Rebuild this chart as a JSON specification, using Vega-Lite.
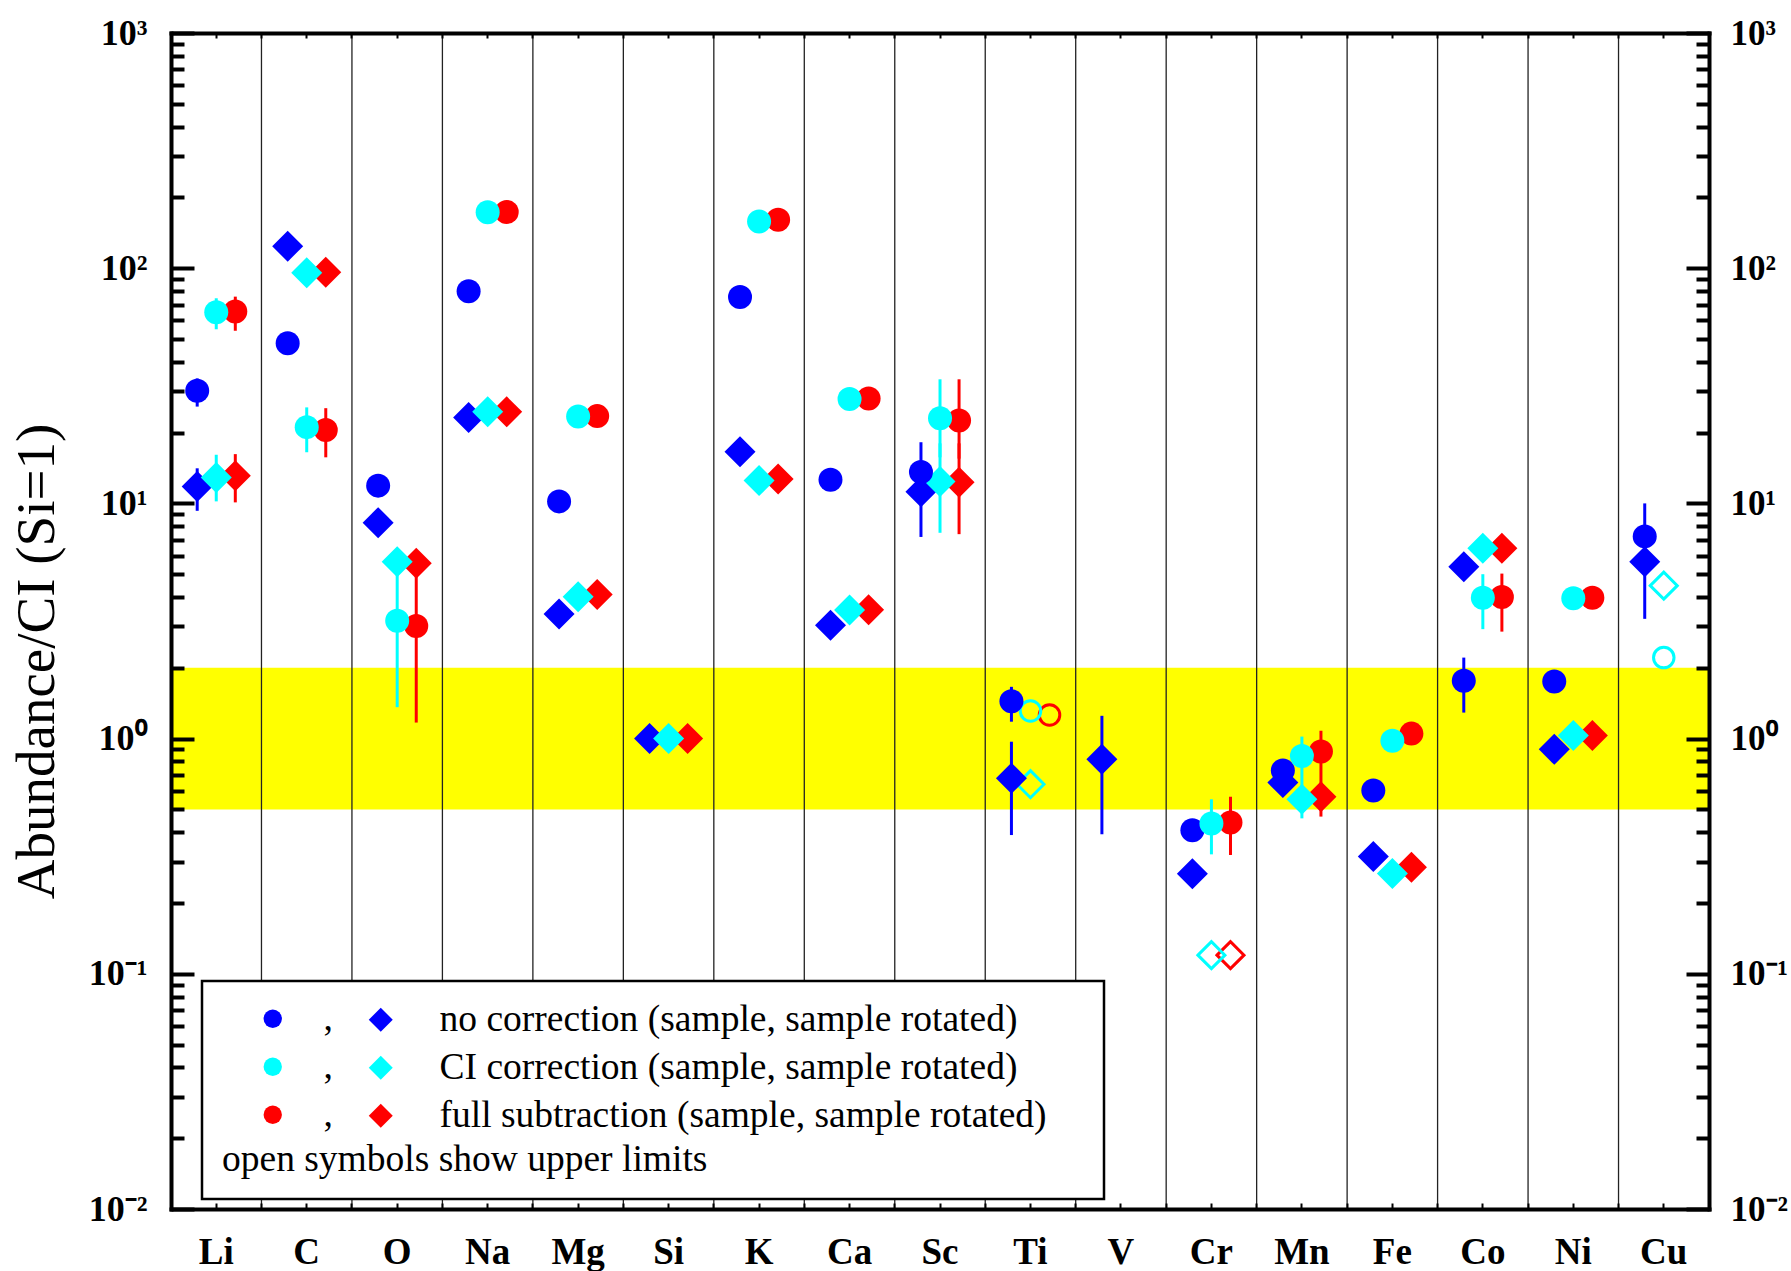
{
  "$schema": "https://vega.github.io/schema/vega-lite/v6.json",
  "width": 1538,
  "height": 1176,
  "autosize": {"type": "none"},
  "padding": {"left": 171, "top": 33, "right": 82, "bottom": 62},
  "background": "white",
  "config": {
    "view": {"stroke": null},
    "font": "Liberation Serif",
    "axis": {"labelColor": "black", "tickColor": "black", "domainColor": "black", "grid": false}
  },
  "datasets": {
    "els": [
      {"el": "Li"}, {"el": "C"}, {"el": "O"}, {"el": "Na"}, {"el": "Mg"}, {"el": "Si"}, {"el": "K"}, {"el": "Ca"}, {"el": "Sc"},
      {"el": "Ti"}, {"el": "V"}, {"el": "Cr"}, {"el": "Mn"}, {"el": "Fe"}, {"el": "Co"}, {"el": "Ni"}, {"el": "Cu"}
    ],
    "band": [{"lo": 0.5, "hi": 2}],
    "pts": [
      {"el": "Li", "m": "full", "s": "c", "v": 65.5, "lo": 54.2, "hi": 75.7},
      {"el": "Li", "m": "full", "s": "d", "v": 13.1, "lo": 10.1, "hi": 16.2},
      {"el": "Li", "m": "no", "s": "c", "v": 30.1, "lo": 25.8, "hi": 34},
      {"el": "Li", "m": "no", "s": "d", "v": 11.8, "lo": 9.3, "hi": 14.1},
      {"el": "Li", "m": "CI", "s": "c", "v": 65, "lo": 55, "hi": 74.5},
      {"el": "Li", "m": "CI", "s": "d", "v": 12.9, "lo": 10.2, "hi": 16.1},
      {"el": "C", "m": "full", "s": "c", "v": 20.5, "lo": 15.7, "hi": 25.4},
      {"el": "C", "m": "full", "s": "d", "v": 96},
      {"el": "C", "m": "no", "s": "c", "v": 48},
      {"el": "C", "m": "no", "s": "d", "v": 124},
      {"el": "C", "m": "CI", "s": "c", "v": 21.1, "lo": 16.5, "hi": 25.6},
      {"el": "C", "m": "CI", "s": "d", "v": 95.7},
      {"el": "O", "m": "full", "s": "c", "v": 3.01, "lo": 1.17, "hi": 5.5},
      {"el": "O", "m": "full", "s": "d", "v": 5.56},
      {"el": "O", "m": "no", "s": "c", "v": 11.9},
      {"el": "O", "m": "no", "s": "d", "v": 8.28},
      {"el": "O", "m": "CI", "s": "c", "v": 3.17, "lo": 1.36, "hi": 5.6},
      {"el": "O", "m": "CI", "s": "d", "v": 5.65},
      {"el": "Na", "m": "full", "s": "c", "v": 173.5},
      {"el": "Na", "m": "full", "s": "d", "v": 24.5},
      {"el": "Na", "m": "no", "s": "c", "v": 79.8},
      {"el": "Na", "m": "no", "s": "d", "v": 23.2},
      {"el": "Na", "m": "CI", "s": "c", "v": 173},
      {"el": "Na", "m": "CI", "s": "d", "v": 24.5},
      {"el": "Mg", "m": "full", "s": "c", "v": 23.5},
      {"el": "Mg", "m": "full", "s": "d", "v": 4.1},
      {"el": "Mg", "m": "no", "s": "c", "v": 10.2},
      {"el": "Mg", "m": "no", "s": "d", "v": 3.39},
      {"el": "Mg", "m": "CI", "s": "c", "v": 23.4},
      {"el": "Mg", "m": "CI", "s": "d", "v": 4.01},
      {"el": "Si", "m": "full", "s": "d", "v": 1.0},
      {"el": "Si", "m": "no", "s": "d", "v": 1.0},
      {"el": "Si", "m": "CI", "s": "d", "v": 1.0},
      {"el": "K", "m": "full", "s": "c", "v": 160.7},
      {"el": "K", "m": "full", "s": "d", "v": 12.7},
      {"el": "K", "m": "no", "s": "c", "v": 75.4},
      {"el": "K", "m": "no", "s": "d", "v": 16.6},
      {"el": "K", "m": "CI", "s": "c", "v": 158},
      {"el": "K", "m": "CI", "s": "d", "v": 12.5},
      {"el": "Ca", "m": "full", "s": "c", "v": 27.9},
      {"el": "Ca", "m": "full", "s": "d", "v": 3.53},
      {"el": "Ca", "m": "no", "s": "c", "v": 12.6},
      {"el": "Ca", "m": "no", "s": "d", "v": 3.03},
      {"el": "Ca", "m": "CI", "s": "c", "v": 27.8},
      {"el": "Ca", "m": "CI", "s": "d", "v": 3.52},
      {"el": "Sc", "m": "full", "s": "c", "v": 22.5, "lo": 15.5, "hi": 33.7},
      {"el": "Sc", "m": "full", "s": "d", "v": 12.3, "lo": 7.4, "hi": 18},
      {"el": "Sc", "m": "no", "s": "c", "v": 13.6, "lo": 10.2, "hi": 18.2},
      {"el": "Sc", "m": "no", "s": "d", "v": 11.2, "lo": 7.2, "hi": 15},
      {"el": "Sc", "m": "CI", "s": "c", "v": 23, "lo": 15.7, "hi": 33.7},
      {"el": "Sc", "m": "CI", "s": "d", "v": 12.4, "lo": 7.5, "hi": 18},
      {"el": "Ti", "m": "full", "s": "c", "v": 1.26, "lim": true},
      {"el": "Ti", "m": "no", "s": "c", "v": 1.44, "lo": 1.18, "hi": 1.66},
      {"el": "Ti", "m": "no", "s": "d", "v": 0.678, "lo": 0.389, "hi": 0.97},
      {"el": "Ti", "m": "CI", "s": "c", "v": 1.31, "lim": true},
      {"el": "Ti", "m": "CI", "s": "d", "v": 0.64, "lim": true},
      {"el": "V", "m": "no", "s": "d", "v": 0.817, "lo": 0.392, "hi": 1.25},
      {"el": "Cr", "m": "full", "s": "c", "v": 0.44, "lo": 0.32, "hi": 0.566},
      {"el": "Cr", "m": "full", "s": "d", "v": 0.12, "lim": true},
      {"el": "Cr", "m": "no", "s": "c", "v": 0.408},
      {"el": "Cr", "m": "no", "s": "d", "v": 0.266},
      {"el": "Cr", "m": "CI", "s": "c", "v": 0.436, "lo": 0.322, "hi": 0.552},
      {"el": "Cr", "m": "CI", "s": "d", "v": 0.12, "lim": true},
      {"el": "Mn", "m": "full", "s": "c", "v": 0.881, "lo": 0.466, "hi": 1.08},
      {"el": "Mn", "m": "full", "s": "d", "v": 0.566},
      {"el": "Mn", "m": "no", "s": "c", "v": 0.731},
      {"el": "Mn", "m": "no", "s": "d", "v": 0.65},
      {"el": "Mn", "m": "CI", "s": "c", "v": 0.843, "lo": 0.458, "hi": 1.02},
      {"el": "Mn", "m": "CI", "s": "d", "v": 0.552},
      {"el": "Fe", "m": "full", "s": "c", "v": 1.05},
      {"el": "Fe", "m": "full", "s": "d", "v": 0.284},
      {"el": "Fe", "m": "no", "s": "c", "v": 0.601},
      {"el": "Fe", "m": "no", "s": "d", "v": 0.315},
      {"el": "Fe", "m": "CI", "s": "c", "v": 0.98},
      {"el": "Fe", "m": "CI", "s": "d", "v": 0.267},
      {"el": "Co", "m": "full", "s": "c", "v": 4.0, "lo": 2.85, "hi": 5.03},
      {"el": "Co", "m": "full", "s": "d", "v": 6.44},
      {"el": "Co", "m": "no", "s": "c", "v": 1.76, "lo": 1.29, "hi": 2.21},
      {"el": "Co", "m": "no", "s": "d", "v": 5.38},
      {"el": "Co", "m": "CI", "s": "c", "v": 3.97, "lo": 2.92, "hi": 5.0},
      {"el": "Co", "m": "CI", "s": "d", "v": 6.44},
      {"el": "Ni", "m": "full", "s": "c", "v": 3.97},
      {"el": "Ni", "m": "full", "s": "d", "v": 1.03},
      {"el": "Ni", "m": "no", "s": "c", "v": 1.75},
      {"el": "Ni", "m": "no", "s": "d", "v": 0.9},
      {"el": "Ni", "m": "CI", "s": "c", "v": 3.95},
      {"el": "Ni", "m": "CI", "s": "d", "v": 1.03},
      {"el": "Cu", "m": "no", "s": "c", "v": 7.24, "lo": 5.2, "hi": 10},
      {"el": "Cu", "m": "no", "s": "d", "v": 5.65, "lo": 3.23, "hi": 7.5},
      {"el": "Cu", "m": "CI", "s": "c", "v": 2.21, "lim": true},
      {"el": "Cu", "m": "CI", "s": "d", "v": 4.47, "lim": true}
    ]
  },
  "resolve": {
    "scale": {"fill": "independent"},
    "legend": {"fill": "independent"},
    "axis": {"x": "independent", "y": "independent"}
  },
  "layer": [
    {
      "data": {"name": "band"},
      "mark": {"type": "rect", "color": "#ffff00"},
      "encoding": {
        "y": {"field": "lo", "type": "quantitative",
          "scale": {"type": "log", "domain": [0.01, 1000], "nice": false},
          "axis": {"orient": "left", "values": [0.01, 0.1, 1, 10, 100, 1000], "ticks": false,
            "labelExpr": "datum.value == 1000 ? '10³' : datum.value == 100 ? '10²' : datum.value == 10 ? '10¹' : datum.value == 1 ? '10⁰' : datum.value == 0.1 ? '10⁻¹' : '10⁻²'",
            "labelFont": "Liberation Serif", "labelFontSize": 36, "labelFontWeight": "bold", "labelPadding": 24, "labelAlign": "right", "labelBaseline": "middle",
            "domain": true, "domainWidth": 4, "domainCap": "square", "zindex": 1,
            "title": "Abundance/CI (Si=1)", "titleFont": "Liberation Serif", "titleFontSize": 55, "titleFontWeight": "normal", "titleColor": "black",
            "titleAngle": -90, "titleX": -118, "titleY": 628, "titleBaseline": "alphabetic", "titleAlign": "center"}},
        "y2": {"field": "hi"}
      }
    },
    {
      "mark": {"type": "rule", "color": "black", "strokeWidth": 4},
      "encoding": {
        "y": {"datum": 1, "type": "quantitative",
          "scale": {"type": "log", "domain": [0.01, 1000], "nice": false},
          "axis": {"orient": "right", "values": [0.01, 0.1, 1, 10, 100, 1000], "ticks": false,
            "labelExpr": "datum.value == 1000 ? '10³' : datum.value == 100 ? '10²' : datum.value == 10 ? '10¹' : datum.value == 1 ? '10⁰' : datum.value == 0.1 ? '10⁻¹' : '10⁻²'",
            "labelFont": "Liberation Serif", "labelFontSize": 35, "labelFontWeight": "bold", "labelPadding": 21, "labelAlign": "left", "labelBaseline": "middle",
            "domain": true, "domainWidth": 4, "domainCap": "square", "zindex": 1, "title": null}}
      }
    },
    {
      "data": {"name": "els"},
      "mark": {"type": "rule", "color": "#222222", "strokeWidth": 1.3},
      "encoding": {
        "x": {"field": "el", "type": "nominal", "bandPosition": 0,
          "scale": {"domain": ["Li","C","O","Na","Mg","Si","K","Ca","Sc","Ti","V","Cr","Mn","Fe","Co","Ni","Cu"], "paddingInner": 0, "paddingOuter": 0},
          "axis": {"orient": "bottom", "bandPosition": 0.5, "ticks": false, "labelAngle": 0,
            "labelFont": "Liberation Serif", "labelFontSize": 37, "labelFontWeight": "bold", "labelPadding": 54, "labelBaseline": "alphabetic",
            "domain": true, "domainWidth": 4, "domainCap": "square", "zindex": 1, "title": null}}
      }
    },
    {
      "data": {"name": "pts"},
      "transform": [{"filter": "isValid(datum.lo)"}],
      "mark": {"type": "rule", "strokeWidth": 3},
      "encoding": {
        "x": {"field": "el", "type": "nominal",
          "scale": {"domain": ["Li","C","O","Na","Mg","Si","K","Ca","Sc","Ti","V","Cr","Mn","Fe","Co","Ni","Cu"], "paddingInner": 0, "paddingOuter": 0},
          "axis": {"orient": "top", "bandPosition": 0.5, "labels": false, "ticks": true, "tickSize": -5, "tickWidth": 2,
            "domain": true, "domainWidth": 4, "domainCap": "square", "zindex": 1, "title": null}},
        "xOffset": {"field": "m", "type": "nominal", "scale": {"type": "point", "domain": ["no", "CI", "full"], "padding": 0, "range": [26.2, 64.3]}},
        "y": {"field": "lo", "type": "quantitative",
          "scale": {"type": "log", "domain": [0.01, 1000], "nice": false},
          "axis": {"orient": "left", "values": [0.01, 0.1, 1, 10, 100, 1000], "labels": false, "domain": false, "ticks": true, "tickSize": -23, "tickWidth": 4, "zindex": 1, "title": null}},
        "y2": {"field": "hi"},
        "stroke": {"field": "m", "type": "nominal", "scale": {"domain": ["no", "CI", "full"], "range": ["#0000ff", "#00ffff", "#ff0000"]}, "legend": null}
      }
    },
    {
      "data": {"name": "pts"},
      "transform": [{"filter": "datum.lim && datum.s == 'c'"}],
      "mark": {"type": "point", "shape": "circle", "filled": false, "strokeWidth": 3, "size": 420, "opacity": 1},
      "encoding": {
        "x": {"field": "el", "type": "nominal",
          "scale": {"domain": ["Li","C","O","Na","Mg","Si","K","Ca","Sc","Ti","V","Cr","Mn","Fe","Co","Ni","Cu"], "paddingInner": 0, "paddingOuter": 0},
          "axis": {"orient": "bottom", "bandPosition": 0.5, "labels": false, "ticks": true, "tickSize": -6, "tickWidth": 2, "domain": false, "zindex": 1, "title": null}},
        "xOffset": {"field": "m", "type": "nominal", "scale": {"type": "point", "domain": ["no", "CI", "full"], "padding": 0, "range": [26.2, 64.3]}},
        "y": {"field": "v", "type": "quantitative",
          "scale": {"type": "log", "domain": [0.01, 1000], "nice": false},
          "axis": {"orient": "right", "values": [0.01, 0.1, 1, 10, 100, 1000], "labels": false, "domain": false, "ticks": true, "tickSize": -23, "tickWidth": 4, "zindex": 1, "title": null}},
        "stroke": {"field": "m", "type": "nominal", "scale": {"domain": ["no", "CI", "full"], "range": ["#0000ff", "#00ffff", "#ff0000"]}, "legend": null}
      }
    },
    {
      "data": {"name": "pts"},
      "transform": [{"filter": "datum.lim && datum.s == 'd'"}],
      "mark": {"type": "point", "shape": "diamond", "filled": false, "strokeWidth": 3, "size": 730, "opacity": 1},
      "encoding": {
        "x": {"field": "el", "type": "nominal",
          "scale": {"domain": ["Li","C","O","Na","Mg","Si","K","Ca","Sc","Ti","V","Cr","Mn","Fe","Co","Ni","Cu"], "paddingInner": 0, "paddingOuter": 0},
          "axis": {"orient": "bottom", "bandPosition": 0, "labels": false, "ticks": true, "tickSize": -6, "tickWidth": 2, "domain": false, "zindex": 1, "title": null}},
        "xOffset": {"field": "m", "type": "nominal", "scale": {"type": "point", "domain": ["no", "CI", "full"], "padding": 0, "range": [26.2, 64.3]}},
        "y": {"field": "v", "type": "quantitative",
          "scale": {"type": "log", "domain": [0.01, 1000], "nice": false},
          "axis": {"orient": "left", "values": [0.02,0.03,0.04,0.05,0.06,0.07,0.08,0.09,0.2,0.3,0.4,0.5,0.6,0.7,0.8,0.9,2,3,4,5,6,7,8,9,20,30,40,50,60,70,80,90,200,300,400,500,600,700,800,900],
            "labels": false, "domain": false, "ticks": true, "tickSize": -13, "tickWidth": 4, "zindex": 1, "title": null}},
        "stroke": {"field": "m", "type": "nominal", "scale": {"domain": ["no", "CI", "full"], "range": ["#0000ff", "#00ffff", "#ff0000"]}, "legend": null}
      }
    },
    {
      "data": {"name": "pts"},
      "transform": [{"filter": "!datum.lim && datum.s == 'd'"}],
      "mark": {"type": "point", "shape": "diamond", "filled": true, "size": 961, "opacity": 1, "strokeWidth": 0},
      "encoding": {
        "x": {"field": "el", "type": "nominal",
          "scale": {"domain": ["Li","C","O","Na","Mg","Si","K","Ca","Sc","Ti","V","Cr","Mn","Fe","Co","Ni","Cu"], "paddingInner": 0, "paddingOuter": 0},
          "axis": {"orient": "top", "bandPosition": 0, "labels": false, "ticks": true, "tickSize": -5, "tickWidth": 2, "domain": false, "zindex": 1, "title": null}},
        "xOffset": {"field": "m", "type": "nominal", "scale": {"type": "point", "domain": ["no", "CI", "full"], "padding": 0, "range": [26.2, 64.3]}},
        "y": {"field": "v", "type": "quantitative",
          "scale": {"type": "log", "domain": [0.01, 1000], "nice": false},
          "axis": {"orient": "right", "values": [0.02,0.03,0.04,0.05,0.06,0.07,0.08,0.09,0.2,0.3,0.4,0.5,0.6,0.7,0.8,0.9,2,3,4,5,6,7,8,9,20,30,40,50,60,70,80,90,200,300,400,500,600,700,800,900],
            "labels": false, "domain": false, "ticks": true, "tickSize": -13, "tickWidth": 4, "zindex": 1, "title": null}},
        "fill": {"field": "m", "type": "nominal", "scale": {"domain": ["no", "CI", "full"], "range": ["#0000ff", "#00ffff", "#ff0000"]},
          "legend": {"orient": "none", "legendX": 31, "legendY": 948, "zindex": 1,
            "title": "open symbols show upper limits", "titleOrient": "bottom", "titleAnchor": "start", "titleFont": "Liberation Serif", "titleFontWeight": "normal", "titleFontSize": 37.5, "titleColor": "black", "titlePadding": 7, "titleLimit": 2000,
            "symbolType": "diamond", "symbolSize": 576, "symbolOffset": 140, "symbolStrokeWidth": 0, "symbolOpacity": 1,
            "labelOffset": 40, "labelFont": "Liberation Serif", "labelFontSize": 37.5, "labelColor": "black", "labelLimit": 2000,
            "labelExpr": "datum.value == 'no' ? 'no correction (sample, sample rotated)' : datum.value == 'CI' ? 'CI correction (sample, sample rotated)' : 'full subtraction (sample, sample rotated)\u00a0\u2800'",
            "rowPadding": 9, "padding": 20, "strokeColor": "black", "fillColor": "white", "cornerRadius": 0,
            "encode": {"legend": {"update": {"strokeWidth": {"value": 2.5}}}}}}
      }
    },
    {
      "data": {"name": "pts"},
      "transform": [{"filter": "!datum.lim && datum.s == 'c'"}],
      "mark": {"type": "point", "shape": "circle", "filled": true, "size": 576, "opacity": 1, "strokeWidth": 0},
      "encoding": {
        "x": {"field": "el", "type": "nominal",
          "scale": {"domain": ["Li","C","O","Na","Mg","Si","K","Ca","Sc","Ti","V","Cr","Mn","Fe","Co","Ni","Cu"], "paddingInner": 0, "paddingOuter": 0},
          "axis": null},
        "xOffset": {"field": "m", "type": "nominal", "scale": {"type": "point", "domain": ["no", "CI", "full"], "padding": 0, "range": [26.2, 64.3]}},
        "y": {"field": "v", "type": "quantitative",
          "scale": {"type": "log", "domain": [0.01, 1000], "nice": false},
          "axis": null},
        "fill": {"field": "m", "type": "nominal", "scale": {"domain": ["no", "CI", "full"], "range": ["#0000ff", "#00ffff", "#ff0000"]},
          "legend": {"orient": "none", "legendX": 83, "legendY": 967, "zindex": 2, "title": null,
            "symbolType": "circle", "symbolSize": 335, "symbolStrokeWidth": 0, "symbolOpacity": 1,
            "labelExpr": "','", "labelOffset": 32, "labelFont": "Liberation Serif", "labelFontSize": 37.5, "labelColor": "black",
            "rowPadding": 9, "padding": 0}}
      }
    }
  ]
}
